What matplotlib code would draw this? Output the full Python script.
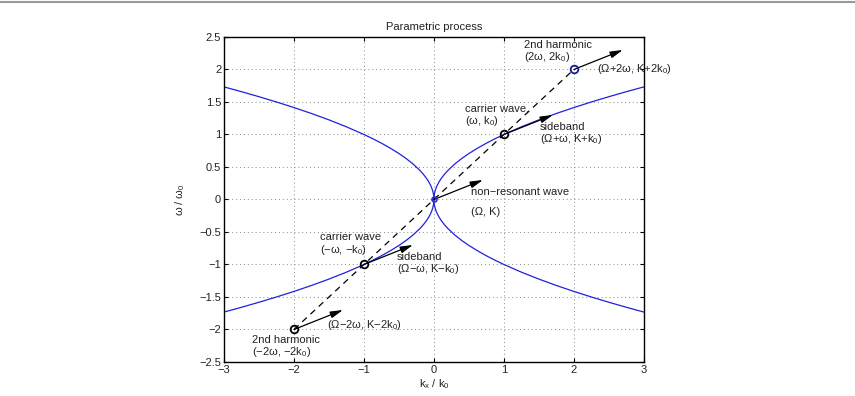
import matplotlib
matplotlib.use("Agg")
import matplotlib.pyplot as plt
from matplotlib.lines import Line2D
import numpy as np

plt.rcParams['font.family'] = ['Liberation Sans', 'DejaVu Sans']
plt.rcParams['mathtext.fontset'] = 'custom'
plt.rcParams['mathtext.rm'] = 'Liberation Sans'
plt.rcParams['mathtext.it'] = 'Liberation Sans'

# dispersion branch (k >= 0), omega = sqrt(k)
branch_k = [0, 0.002, 0.005, 0.01, 0.02, 0.035, 0.05, 0.075, 0.1, 0.15, 0.2, 0.3, 0.4, 0.5, 0.625,
            0.75, 0.875, 1.0, 1.25, 1.5, 1.75, 2.0, 2.25, 2.5, 2.75, 3.0]
branch_w = [0, 0.0447, 0.0707, 0.1, 0.1414, 0.1871, 0.2236, 0.2739, 0.3162, 0.3873, 0.4472, 0.5477,
            0.6325, 0.7071, 0.7906, 0.8660, 0.9354, 1.0, 1.1180, 1.2247, 1.3229, 1.4142, 1.5,
            1.5811, 1.6583, 1.7321]

# wave points (k, omega)
pts_k = [-2, -1, 0, 1, 2]
pts_w = [-2, -1, 0, 1, 2]
pts_color = ['black', 'black', '#3333cc', 'black', '#1a1aa0']
pts_size = [5.5, 5.5, 3.5, 5.5, 5.5]

# non-resonant wave vector (K, Omega)
vec_K = 0.7
vec_W = 0.3

labels = [
    ("2nd harmonic\n(2ω, 2k$_0$)", 1.29, 2.27),
    ("(Ω+2ω, K+2k$_0$)", 2.33, 2.0),
    ("carrier wave,\n(ω, k$_0$)", 0.44, 1.29),
    ("sideband\n(Ω+ω, K+k$_0$)", 1.51, 1.01),
    ("non−resonant wave\n\n(Ω, K)", 0.53, -0.04),
    ("carrier wave\n(−ω, −k$_0$)", -1.63, -0.69),
    ("sideband\n(Ω−ω, K−k$_0$)", -0.53, -0.99),
    ("(Ω−2ω, K−2k$_0$)", -1.53, -1.93),
    ("2nd harmonic\n(−2ω, −2k$_0$)", -2.6, -2.27),
]

fig = plt.figure(figsize=(8.55, 3.96), dpi=100)
ax = fig.add_axes([0.262, 0.0859, 0.491, 0.8207])

bk = np.array(branch_k)
bw = np.array(branch_w)
blue = '#2020e0'
for sx, sy in [(1, 1), (-1, 1), (1, -1), (-1, -1)]:
    ax.plot(sx * bk, sy * bw, color=blue, lw=0.9, zorder=2)

ax.plot([pts_k[0], pts_k[-1]], [pts_w[0], pts_w[-1]], color='black', ls=(0, (5, 4)), lw=0.9, zorder=3)

for k, w in zip(pts_k, pts_w):
    ax.annotate('', xy=(k + vec_K, w + vec_W), xytext=(k, w),
                arrowprops=dict(arrowstyle='-|>,head_length=0.75,head_width=0.2', color='black',
                                lw=0.9, shrinkA=0, shrinkB=0), zorder=4)

for k, w, c, s in zip(pts_k, pts_w, pts_color, pts_size):
    ax.plot(k, w, 'o', mfc='none', mec=c, mew=1.3, ms=s, zorder=5)

for txt, x, y in labels:
    ax.text(x, y, txt, fontsize=8, color='#222222', ha='left', va='center', linespacing=1.05)

ax.set_xlim(-3, 3)
ax.set_ylim(-2.5, 2.5)
ax.set_xticks([-3, -2, -1, 0, 1, 2, 3])
ax.set_yticks([-2.5, -2, -1.5, -1, -0.5, 0, 0.5, 1, 1.5, 2, 2.5])
ax.set_xticklabels(['−3', '−2', '−1', '0', '1', '2', '3'])
ax.set_yticklabels(['−2.5', '−2', '−1.5', '−1', '−0.5', '0', '0.5', '1', '1.5', '2', '2.5'])
ax.tick_params(direction='in', top=True, right=True, labelsize=8, length=3, width=0.8,
               colors='black', labelcolor='#222222', pad=2)
ax.grid(True, ls=(0, (1, 3)), color='#888888', lw=0.7)
for sp in ax.spines.values():
    sp.set_linewidth(1.0)

ax.set_title('Parametric process', fontsize=8, color='#222222', pad=5)
ax.set_xlabel('k$_x$ / k$_0$', fontsize=8, color='#222222', labelpad=2)
ax.set_ylabel('ω / ω$_0$', fontsize=8, color='#222222', labelpad=9)

fig.add_artist(Line2D([0, 1], [0.996, 0.996], transform=fig.transFigure, color='#999999', lw=1.5))

fig.savefig('out.png', dpi=100)
